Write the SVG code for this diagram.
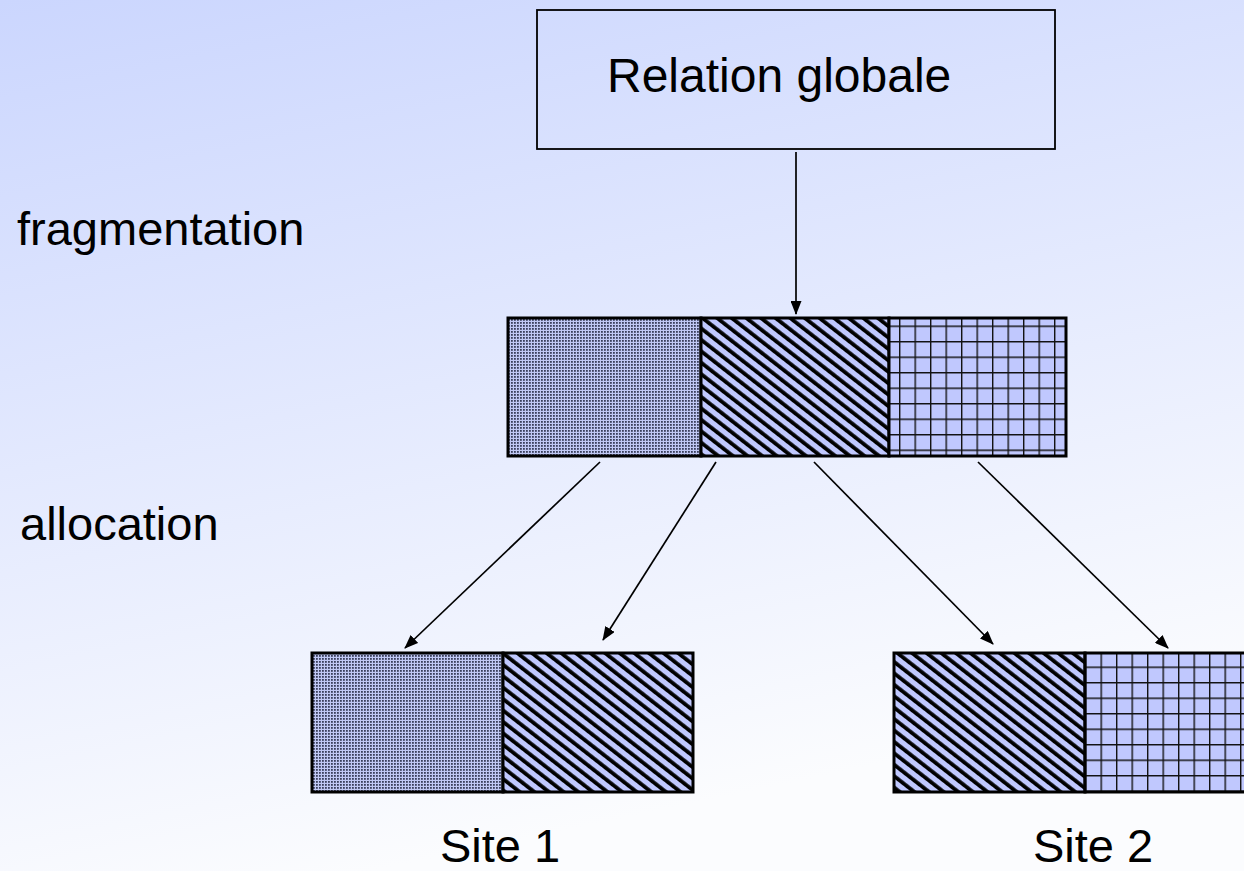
<svg xmlns="http://www.w3.org/2000/svg" width="1244" height="871" viewBox="0 0 1244 871">
<defs>
<linearGradient id="bg" x1="0" y1="0" x2="0.3" y2="1">
<stop offset="0" stop-color="#cbd6fe"/>
<stop offset="1" stop-color="#fbfcfe"/>
</linearGradient>
<pattern id="dots" width="3" height="3" patternUnits="userSpaceOnUse">
<rect width="3" height="3" fill="#c0c8f4"/>
<rect x="1" y="1" width="1.8" height="1.8" fill="#3a3f5c"/>
</pattern>
<pattern id="diag" width="9" height="9" patternUnits="userSpaceOnUse" patternTransform="rotate(-52)">
<rect width="9" height="9" fill="#c0c8fe"/>
<rect x="0" y="0" width="3.8" height="9" fill="#000"/>
</pattern>
<pattern id="grid" width="15.5" height="15.5" patternUnits="userSpaceOnUse">
<rect width="15.5" height="15.5" fill="#c0c8fe"/>
<path d="M0 0H15.5M0 0V15.5" stroke="#111" stroke-width="2.8" fill="none"/>
</pattern>
<marker id="ah" markerWidth="14" markerHeight="11" refX="13" refY="5.5" orient="auto" markerUnits="userSpaceOnUse">
<path d="M0 0L14 5.5L0 11Z" fill="#000"/>
</marker>
<style>
.t{font-family:"Liberation Sans",Arial,sans-serif;font-size:47px;fill:#000}
.frag{stroke:#000;stroke-width:3}
.c{stroke:#000;stroke-width:1.7;fill:none;marker-end:url(#ah)}
</style>
</defs>
<rect width="1244" height="871" fill="url(#bg)"/>
<g id="labels">
<text class="t" x="17" y="245">fragmentation</text>
<text class="t" x="20" y="540">allocation</text>
</g>
<g id="relation-globale">
<rect x="537" y="10" width="518" height="139" fill="none" stroke="#000" stroke-width="1.8"/>
<text class="t" x="607" y="92" style="font-size:48px">Relation globale</text>
</g>
<g id="fragments">
<rect class="frag" x="508" y="318" width="193" height="138" fill="url(#dots)"/>
<rect class="frag" x="701" y="318" width="188" height="138" fill="url(#diag)"/>
<rect class="frag" x="889" y="318" width="177" height="138" fill="url(#grid)"/>
</g>
<g id="site1">
<rect class="frag" x="312" y="653" width="191" height="139" fill="url(#dots)"/>
<rect class="frag" x="503" y="653" width="190" height="139" fill="url(#diag)"/>
<text class="t" x="500" y="862" text-anchor="middle">Site 1</text>
</g>
<g id="site2">
<rect class="frag" x="894" y="653" width="191" height="139" fill="url(#diag)"/>
<rect class="frag" x="1085" y="653" width="165" height="139" fill="url(#grid)"/>
<text class="t" x="1093" y="862" text-anchor="middle">Site 2</text>
</g>
<g id="connectors">
<line class="c" x1="796" y1="152" x2="796" y2="314"/>
<line class="c" x1="600" y1="462" x2="405" y2="648"/>
<line class="c" x1="716" y1="462" x2="603" y2="640"/>
<line class="c" x1="814" y1="462" x2="993" y2="644"/>
<line class="c" x1="978" y1="462" x2="1168" y2="648"/>
</g>
</svg>
